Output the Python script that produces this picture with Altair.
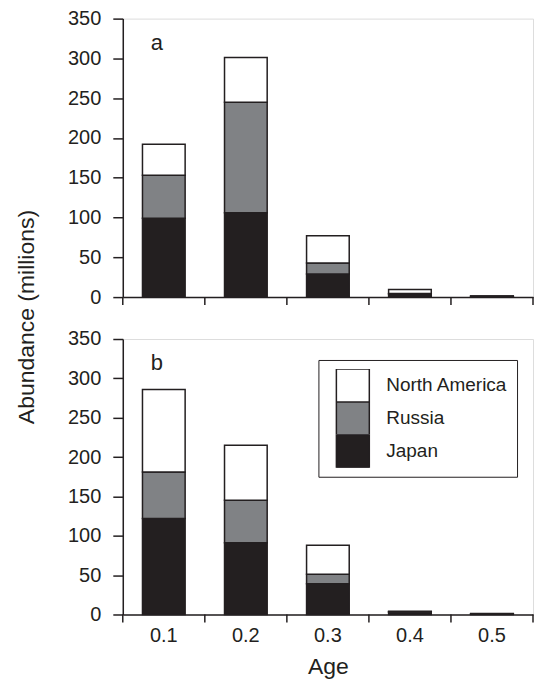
import altair as alt
import pandas as pd

# ---- data ----
ages = ["0.1", "0.2", "0.3", "0.4", "0.5"]
countries = ["North America", "Russia", "Japan"]
stack_rank = {"Japan": 0, "Russia": 1, "North America": 2}
fill_colors = ["#ffffff", "#808285", "#231f20"]

a_japan = [99, 106, 29, 4, 1]
a_russia = [54, 139, 14, 0.5, 0.2]
a_na = [39, 56, 34, 5, 0.3]

b_japan = [122, 91, 39, 3, 0.3]
b_russia = [59, 54, 12, 0.5, 0.6]
b_na = [105, 70, 37, 0.5, 0.2]

y_ticks = [0, 50, 100, 150, 200, 250, 300, 350]
panel_labels = ["a", "b"]
y_title = "Abundance (millions)"
x_title = "Age"

FONT = "Liberation Sans"
INK = "#231f20"
W = 411
HA, HB = 279, 276


def frame(japan, russia, na):
    rows = []
    for i, age in enumerate(ages):
        for c, vals in (("Japan", japan), ("Russia", russia), ("North America", na)):
            rows.append({"age": age, "country": c, "value": vals[i], "rank": stack_rank[c]})
    return pd.DataFrame(rows)


def panel(df, label, bottom, H):
    x_axis = alt.Axis(
        labels=bottom, ticks=False, tickSize=0, domainColor=INK, domainWidth=1.5,
        title=x_title if bottom else None, labelAngle=0, labelFont=FONT, titleFont=FONT,
        labelFontSize=20, titleFontSize=23, labelPadding=11, titlePadding=10,
        labelColor=INK, titleColor=INK, titleFontWeight="normal",
    )
    y_axis = alt.Axis(
        values=y_ticks, title=None, tickSize=10, tickColor=INK, tickWidth=1.5,
        domainColor=INK, domainWidth=1.5, labelFont=FONT, labelFontSize=20,
        labelPadding=12, labelColor=INK, grid=False,
    )
    xs = alt.Scale(domain=ages, paddingInner=0, paddingOuter=0)
    legend = alt.Legend(
        orient="none", legendX=196, legendY=21, title=None, symbolType="square",
        symbolSize=1089, symbolStrokeColor=INK, symbolStrokeWidth=1.5, symbolOpacity=1,
        rowPadding=0, padding=9, strokeColor=INK, labelFont=FONT, labelFontSize=19,
        labelColor=INK, labelOffset=16, symbolOffset=8, labelLimit=300, clipHeight=33,
        labelExpr="datum.label + '\u00a0\u00a0'",
    )
    bars = alt.Chart(df).mark_bar(
        width=alt.RelativeBandSize(band=0.52), stroke=INK, strokeWidth=1.5
    ).encode(
        x=alt.X("age:N", scale=xs, axis=x_axis, sort=ages),
        y=alt.Y("value:Q", stack="zero", scale=alt.Scale(domain=[0, 350], nice=False), axis=y_axis),
        color=alt.Color("country:N", scale=alt.Scale(domain=countries, range=fill_colors),
                        legend=legend if bottom else None),
        order=alt.Order("rank:Q"),
    )
    tick_df = pd.DataFrame({"age": ages})
    ticks = alt.Chart(tick_df).mark_rule(stroke=INK, strokeWidth=1.5).encode(
        x=alt.X("age:N", bandPosition=0, scale=xs, axis=x_axis, sort=ages),
        y=alt.value(H), y2=alt.value(H + 8),
    )
    end_tick = alt.Chart(tick_df).transform_filter(
        alt.datum.age == ages[-1]
    ).mark_rule(stroke=INK, strokeWidth=1.5).encode(
        x=alt.X("age:N", bandPosition=1, scale=xs, axis=x_axis, sort=ages),
        y=alt.value(H), y2=alt.value(H + 8),
    )
    lab = alt.Chart(pd.DataFrame({"t": [label]})).mark_text(
        align="left", baseline="alphabetic", fontSize=22, font=FONT, color=INK
    ).encode(text="t:N", x=alt.value(28), y=alt.value(31))
    layers = [bars, ticks, end_tick, lab]
    if not bottom:
        ytitle = alt.Chart(pd.DataFrame({"t": [y_title]})).mark_text(
            angle=270, fontSize=23, font=FONT, color=INK, align="center", baseline="middle"
        ).encode(text="t:N", x=alt.value(-96), y=alt.value(299))
        layers.append(ytitle)
    return alt.layer(*layers).properties(width=W, height=H)


pa = panel(frame(a_japan, a_russia, a_na), panel_labels[0], False, HA)
pb = panel(frame(b_japan, b_russia, b_na), panel_labels[1], True, HB)

chart = alt.vconcat(pa, pb, spacing=42, bounds="flush").resolve_legend(
    color="independent"
).properties(
    padding={"left": 7, "top": -1, "right": 0, "bottom": 0}
).configure_view(stroke=INK, strokeWidth=1.5).configure(background="white")

chart.save("out.html", embed_options={"renderer": "svg", "actions": False})
